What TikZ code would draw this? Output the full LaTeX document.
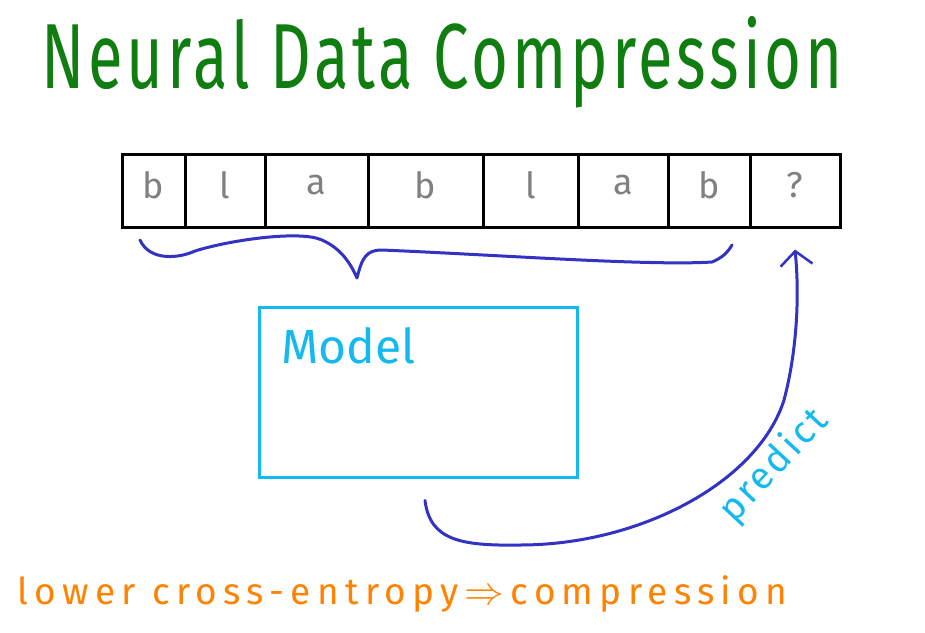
\documentclass[tikz,border=0pt]{standalone}
\usepackage{fontspec}
\setmainfont{Fira Sans}
\usetikzlibrary{arrows.meta,calc}

\definecolor{titlegreen}{RGB}{15,125,15}
\definecolor{penblue}{RGB}{50,50,195}
\definecolor{pencyan}{RGB}{20,185,240}
\definecolor{penorange}{RGB}{255,130,0}

\tikzset{
	cell/.style={draw=black, line width=3pt, minimum height=73pt, outer sep=0pt, inner sep=0pt, text=gray, font=\fontsize{36}{36}\selectfont\addfontfeatures{LetterSpace=0}},
	brace/.style={draw=penblue, line width=3pt, line cap=round, line join=round},
	flow/.style={draw=penblue, line width=3pt, line cap=round, -{Straight Barb[length=14pt,width=32pt,line width=2.5pt]}}
}

\begin{document}
\begin{tikzpicture}[x=1pt,y=-1pt]

	%Background
	\useasboundingbox[fill=white] (0,0) rectangle (925,632);

	%Title
	\node[text=titlegreen, font=\fontsize{66}{66}\selectfont\addfontfeatures{LetterSpace=6}] (title) at (442,62) {\scalebox{0.96}[1.4]{Neural Data Compression}};

	%Sequence
	\foreach \l/\r/\t/\n in {122/185/b/1, 185/265/l/2, 265/368/a/3, 368/483/b/4, 483/578/l/5, 578/668/a/6, 668/750/b/7, 750/840/?/8}
		\node[cell, minimum width={(\r-\l)*1pt}] (c\n) at ({(\l+\r)/2},191) {\raisebox{12pt}{\t}};

	%Brace
	\draw[brace] (140,240) .. controls (150,262) and (180,258) .. (195,251)
		.. controls (230,240) and (300,230) .. (322,240)
		.. controls (340,248) and (350,262) .. (357,278)
		.. controls (362,258) and (366,250) .. (382,250)
		.. controls (500,255) and (650,266) .. (712,262)
		.. controls (722,258) and (728,252) .. (732,245);

	%Model
	\node[draw=pencyan, line width=3pt, minimum width=318pt, minimum height=170pt] (model) at (418,392) {};
	\node[text=pencyan, font=\fontsize{48}{48}\selectfont, anchor=west] (modellabel) at (278,346) {Model};

	%Prediction
	\coordinate (start) at ($(model.south)+(7,22)$);
	\draw[flow] (start) .. controls (430,540) and (460,546) .. (520,545)
		.. controls (640,545) and (758,482) .. (784,400)
		.. controls (796,355) and (800,300) .. ([yshift=-22pt]c8.south);
	\node[text=pencyan, rotate=47, font=\fontsize{38}{38}\selectfont\addfontfeatures{LetterSpace=8}] (predict) at (774,466) {predict};

	%Caption
	\node[text=penorange, anchor=west, font=\fontsize{37}{37}\selectfont\addfontfeatures{LetterSpace=17}] (caption) at (14,594) {lower cross-entropy\,\scalebox{1.6}{$\Rightarrow$}\,compression};

\end{tikzpicture}
\end{document}
